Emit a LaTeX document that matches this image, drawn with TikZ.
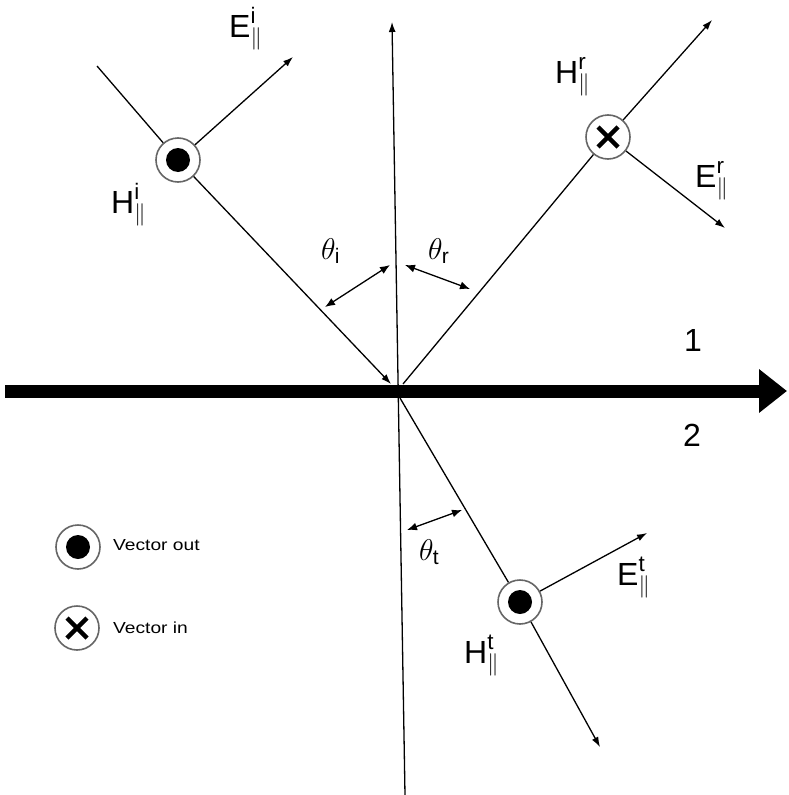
\RequirePackage{fix-cm}
\documentclass[tikz,border=0pt]{standalone}
\usepackage{amsmath}
\usepackage{fontspec}
\setmainfont{Liberation Sans}
\usetikzlibrary{arrows.meta}
\newcommand{\fld}[2]{$\text{#1}_{\|}^{\text{#2}}$}
\begin{document}
\begin{tikzpicture}[x=1pt,y=-1pt,
  ray/.style={line width=1.3pt},
  arr/.style={ray,-{Latex[length=10pt,width=7pt]}},
  dbl/.style={ray,{Latex[length=10pt,width=8pt]}-{Latex[length=10pt,width=8pt]}},
  ring/.style={circle,draw=black!60,line width=1.6pt,minimum size=44pt,inner sep=0pt},
  vout/.style={ring,path picture={\fill[black] (path picture bounding box.center) circle[radius=12pt];}},
  vin/.style={ring,path picture={\draw[black,line width=4.5pt] (path picture bounding box.center) ++(-10pt,-10pt) -- ++(20pt,20pt);
      \draw[black,line width=4.5pt] (path picture bounding box.center) ++(-10pt,10pt) -- ++(20pt,-20pt);}},
  lab/.style={font=\fontsize{32}{36}\selectfont,inner sep=0pt,anchor=base west},
  ang/.style={font=\fontsize{30}{34}\selectfont,inner sep=0pt,anchor=base west},
  leg/.style={font=\fontsize{16}{18}\selectfont,inner sep=0pt,anchor=west}]
\fill[white] (0,0) rectangle (789,795);
\useasboundingbox (0,0) rectangle (789,795);
% interface and normal
\coordinate (ha) at (5,391);
\coordinate (hb) at (787,391);
\draw[line width=13pt,-{Triangle[length=28pt,width=42pt]}] (ha) -- (hb);
\coordinate (nb) at (405,795);
\coordinate (nt) at (392,22);
\draw[arr] (nb) -- (nt);
% incident
\coordinate (is) at (97,66);
\coordinate (io) at (391,384);
\coordinate (ie) at (293,57);
\node[vout] (ci) at (178,160) {};
\draw[ray] (is) -- (ci);
\draw[arr] (ci) -- (io);
\draw[arr] (ci) -- (ie);
% reflected
\coordinate (ro) at (403,384);
\coordinate (rt) at (712,20);
\coordinate (re) at (725,228);
\node[vin] (cr) at (608,137) {};
\draw[ray] (ro) -- (cr);
\draw[arr] (cr) -- (rt);
\draw[arr] (cr) -- (re);
% transmitted
\coordinate (to) at (400,398);
\coordinate (tt) at (600,747);
\coordinate (te) at (647,533);
\node[vout] (ct) at (520,602) {};
\draw[ray] (to) -- (ct);
\draw[arr] (ct) -- (tt);
\draw[arr] (ct) -- (te);
% angle arrows
\coordinate (ai1) at (325,307); \coordinate (ai2) at (390,265);
\draw[dbl] (ai1) -- (ai2);
\coordinate (ar1) at (405,265); \coordinate (ar2) at (470,289);
\draw[dbl] (ar1) -- (ar2);
\coordinate (at1) at (407,530); \coordinate (at2) at (462,510);
\draw[dbl] (at1) -- (at2);
% labels
\node[lab] (lEi) at (229,37) {\fld{E}{i}};
\node[lab] (lHi) at (111,213) {\fld{H}{i}};
\node[lab] (lHr) at (555,83) {\fld{H}{r}};
\node[lab] (lEr) at (695,187) {\fld{E}{r}};
\node[lab] (lEt) at (617,585) {\fld{E}{t}};
\node[lab] (lHt) at (464,663) {\fld{H}{t}};
\node[ang] (thi) at (321,259) {$\theta_{\text{i}}$};
\node[ang] (thr) at (428,259) {$\theta_{\text{r}}$};
\node[ang] (tht) at (419,560) {$\theta_{\text{t}}$};
\node[lab] (m1) at (684,351) {1};
\node[lab] (m2) at (683,446) {2};
% legend
\node[vout] (lo) at (78,547) {};
\node[vin] (li) at (77,628) {};
\node[leg] (lot) at (113,545) {\scalebox{1.2}[1]{Vector out}};
\node[leg] (lit) at (113,628) {\scalebox{1.2}[1]{Vector in}};
\end{tikzpicture}
\end{document}
